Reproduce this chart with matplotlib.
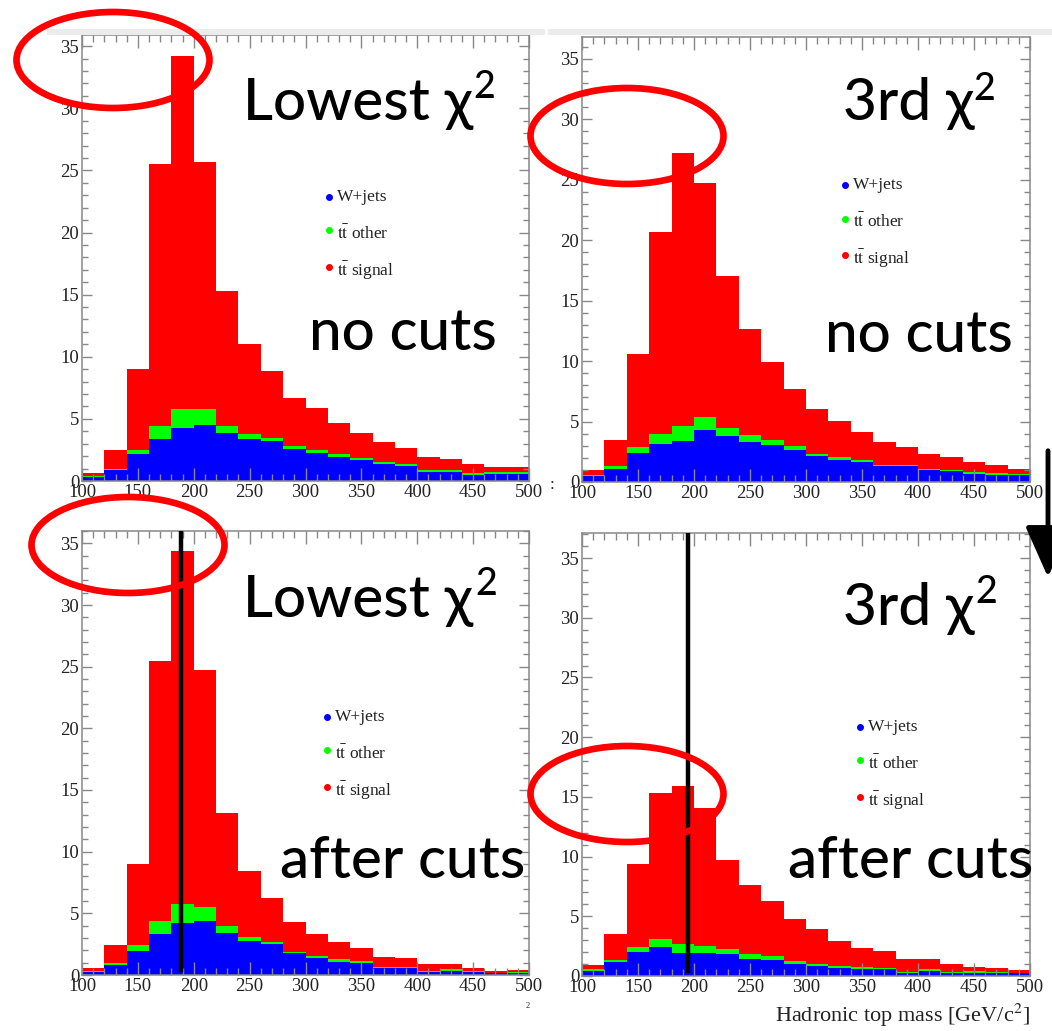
import numpy as np
import matplotlib.pyplot as plt
from matplotlib.patches import Ellipse, Rectangle, FancyArrowPatch
from matplotlib.ticker import MultipleLocator

plt.rcParams['mathtext.fontset'] = 'stix'

W, H = 1052, 1031

# hadronic top mass binning, 20 GeV bins from 100 to 500
edges = np.arange(100, 520, 20)

# lowest chi2, no cuts
low_wjets = [0.35, 0.90, 2.15, 3.38, 4.24, 4.53, 3.90, 3.38, 3.20, 2.55, 2.28, 1.96, 1.69, 1.34, 1.23, 0.75, 0.75, 0.48, 0.56, 0.56]
low_other = [0.05, 0.04, 0.35, 1.07, 1.53, 1.24, 0.55, 0.42, 0.30, 0.25, 0.22, 0.19, 0.13, 0.16, 0.17, 0.13, 0.13, 0.14, 0.14, 0.14]
low_signal = [0.22, 1.56, 6.50, 21.05, 28.43, 19.93, 10.85, 7.20, 5.35, 3.90, 3.40, 2.55, 2.01, 1.66, 1.23, 1.08, 0.86, 0.72, 0.40, 0.40]

# 3rd chi2, no cuts
third_wjets = [0.47, 1.07, 2.40, 3.14, 3.36, 4.27, 3.83, 3.28, 3.09, 2.62, 2.12, 1.85, 1.65, 1.30, 1.30, 1.02, 0.88, 0.69, 0.60, 0.55]
third_other = [0.08, 0.23, 0.50, 0.86, 1.24, 1.10, 0.63, 0.61, 0.35, 0.33, 0.22, 0.22, 0.20, 0.13, 0.13, 0.08, 0.14, 0.11, 0.14, 0.14]
third_signal = [0.41, 2.20, 7.70, 16.70, 22.60, 19.33, 12.60, 8.76, 6.46, 4.74, 3.69, 3.00, 2.31, 1.85, 1.44, 1.24, 1.02, 0.85, 0.64, 0.41]

# lowest chi2, after cuts
low_cut_wjets = [0.27, 0.81, 1.97, 3.32, 4.19, 4.38, 3.43, 2.76, 2.49, 1.76, 1.35, 1.08, 1.00, 0.54, 0.54, 0.27, 0.35, 0.27, 0.14, 0.19]
low_cut_other = [0.05, 0.14, 0.46, 1.06, 1.54, 1.16, 0.54, 0.34, 0.16, 0.13, 0.19, 0.19, 0.16, 0.08, 0.08, 0.08, 0.11, 0.08, 0.05, 0.08]
low_cut_signal = [0.22, 1.48, 6.54, 21.12, 28.67, 19.16, 9.13, 5.33, 3.62, 2.43, 1.76, 1.38, 1.00, 0.81, 0.73, 0.51, 0.40, 0.24, 0.13, 0.13]

# 3rd chi2, after cuts
third_cut_wjets = [0.42, 1.20, 2.04, 2.45, 1.95, 1.90, 1.81, 1.42, 1.34, 1.00, 0.84, 0.64, 0.56, 0.56, 0.28, 0.42, 0.28, 0.28, 0.22, 0.22]
third_cut_other = [0.14, 0.14, 0.41, 0.65, 0.70, 0.61, 0.45, 0.39, 0.36, 0.28, 0.16, 0.20, 0.17, 0.14, 0.08, 0.14, 0.08, 0.14, 0.14, 0.06]
third_cut_signal = [0.36, 2.17, 6.89, 12.24, 13.25, 11.52, 7.44, 5.80, 4.57, 3.46, 2.90, 2.12, 1.64, 1.39, 1.03, 0.83, 0.64, 0.36, 0.28, 0.22]

# top mass cut positions
cut_low = 189
cut_third = 195

labels = ["W+jets", r"$\mathrm{t}\bar{\mathrm{t}}$ other", r"$\mathrm{t}\bar{\mathrm{t}}$ signal"]
colors = ["#0000ff", "#00ff00", "#ff0000"]


def px(x, y):
    return x / W, 1 - y / H


def make_axes(fig, left, right, top, bottom):
    return fig.add_axes([left / W, 1 - bottom / H, (right - left) / W, (bottom - top) / H])


def draw_stack(ax, comps, ymax):
    base = np.zeros(len(edges) - 1)
    for vals, col in zip(comps, colors):
        vals = np.asarray(vals)
        ax.stairs(base + vals, edges, baseline=base, fill=True, color=col, lw=0)
        base = base + vals
    ax.set_xlim(100, 500)
    ax.set_ylim(0, ymax)
    ax.xaxis.set_major_locator(MultipleLocator(50))
    ax.xaxis.set_minor_locator(MultipleLocator(10))
    ax.yaxis.set_major_locator(MultipleLocator(5))
    ax.yaxis.set_minor_locator(MultipleLocator(1))
    ax.tick_params(which='both', direction='in', top=True, right=True, color='#888888', width=1.0,
                   labelsize=13.5, labelcolor='#222222')
    ax.tick_params(axis='x', which='major', length=9.5, pad=2)
    ax.tick_params(axis='x', which='minor', length=5)
    ax.tick_params(axis='y', which='major', length=7.5, pad=2)
    ax.tick_params(axis='y', which='minor', length=4)
    for lab in ax.get_xticklabels() + ax.get_yticklabels():
        lab.set_family('Liberation Serif')
    for sp in ax.spines.values():
        sp.set_color('#888888')
        sp.set_linewidth(1.1)


def draw_key(ax, x0, y0, dy):
    for i, (name, col) in enumerate(zip(labels, colors)):
        y = y0 - i * dy
        lift = 0 if i == 0 else 0.008
        ax.plot([x0], [y + lift], 'o', ms=4, color=col, mec=col, transform=ax.transAxes, clip_on=False)
        ax.text(x0 + 0.018, y, name, transform=ax.transAxes, va='center', ha='left',
                fontsize=12.5, family='Liberation Serif', color='#222222')


fig = plt.figure(figsize=(W / 100, H / 100), dpi=100)

# thin grey strip along the top edge of the upper panels
fig.add_artist(Rectangle(px(47, 35), 498 / W, 6 / H, transform=fig.transFigure, color='#ececec', lw=0))
fig.add_artist(Rectangle(px(548, 35), 504 / W, 6 / H, transform=fig.transFigure, color='#ececec', lw=0))

ax1 = make_axes(fig, 82, 529, 35, 481)
ax2 = make_axes(fig, 582, 1030, 37, 482)
ax3 = make_axes(fig, 82, 529, 531, 975)
ax4 = make_axes(fig, 582, 1030, 533, 976)

draw_stack(ax1, [low_wjets, low_other, low_signal], 35.9)
draw_stack(ax2, [third_wjets, third_other, third_signal], 36.8)
draw_stack(ax3, [low_cut_wjets, low_cut_other, low_cut_signal], 36.0)
draw_stack(ax4, [third_cut_wjets, third_cut_other, third_cut_signal], 37.1)

ax3.axvline(cut_low, ymin=0.012, ymax=1, color='black', lw=3.2, zorder=3)
ax4.axvline(cut_third, ymin=0.012, ymax=1, color='black', lw=3.2, zorder=3)

draw_key(ax1, 0.553, 0.637, 0.083)
draw_key(ax2, 0.587, 0.667, 0.083)
draw_key(ax3, 0.548, 0.581, 0.083)
draw_key(ax4, 0.620, 0.562, 0.083)

ax4.set_xlabel("Hadronic top mass [GeV/c$^2$]", family='Liberation Serif', fontsize=16,
               color='#222222', ha='right', x=1.0, labelpad=4)

big = dict(family=['Lato', 'DejaVu Sans'], fontsize=42, weight=500, color='black', va='baseline')
sup = dict(family=['Lato', 'DejaVu Sans'], fontsize=27, weight=500, color='black', va='baseline', ha='left')

fig.text(*px(243, 120), "Lowest \u03c7", ha='left', **big)
fig.text(*px(473, 98), "2", **sup)
fig.text(*px(497, 350), "no cuts", ha='right', **big)

fig.text(*px(843, 120), "3rd \u03c7", ha='left', **big)
fig.text(*px(973, 100), "2", **sup)
fig.text(*px(1013, 352), "no cuts", ha='right', **big)

fig.text(*px(243, 617), "Lowest \u03c7", ha='left', **big)
fig.text(*px(475, 595), "2", **sup)
fig.text(*px(525, 878), "after cuts", ha='right', **big)

fig.text(*px(843, 625), "3rd \u03c7", ha='left', **big)
fig.text(*px(975, 603), "2", **sup)
fig.text(*px(1033, 878), "after cuts", ha='right', **big)

# stray marks at the panel borders
fig.text(*px(552, 485), ":", ha='center', va='center', fontsize=12, family='Liberation Serif', color='#222222')
fig.text(*px(528, 1006), "2", ha='center', va='center', fontsize=6, family='Liberation Serif', color='#222222')

# red highlight rings around the peak heights
for cx, cy in [(113, 60), (627, 136), (128, 545), (627, 794)]:
    fig.add_artist(Ellipse(px(cx, cy), 193 / W, 96 / H, transform=fig.transFigure,
                           fill=False, ec='#ff0000', lw=4.8, zorder=10))

# arrow on the right edge
fig.add_artist(FancyArrowPatch(px(1048, 448), px(1048, 580), transform=fig.transFigure,
                               arrowstyle='-|>,head_length=0.45,head_width=0.2', mutation_scale=70,
                               lw=3.5, color='black', zorder=10))

fig.savefig("out.png", dpi=100)
